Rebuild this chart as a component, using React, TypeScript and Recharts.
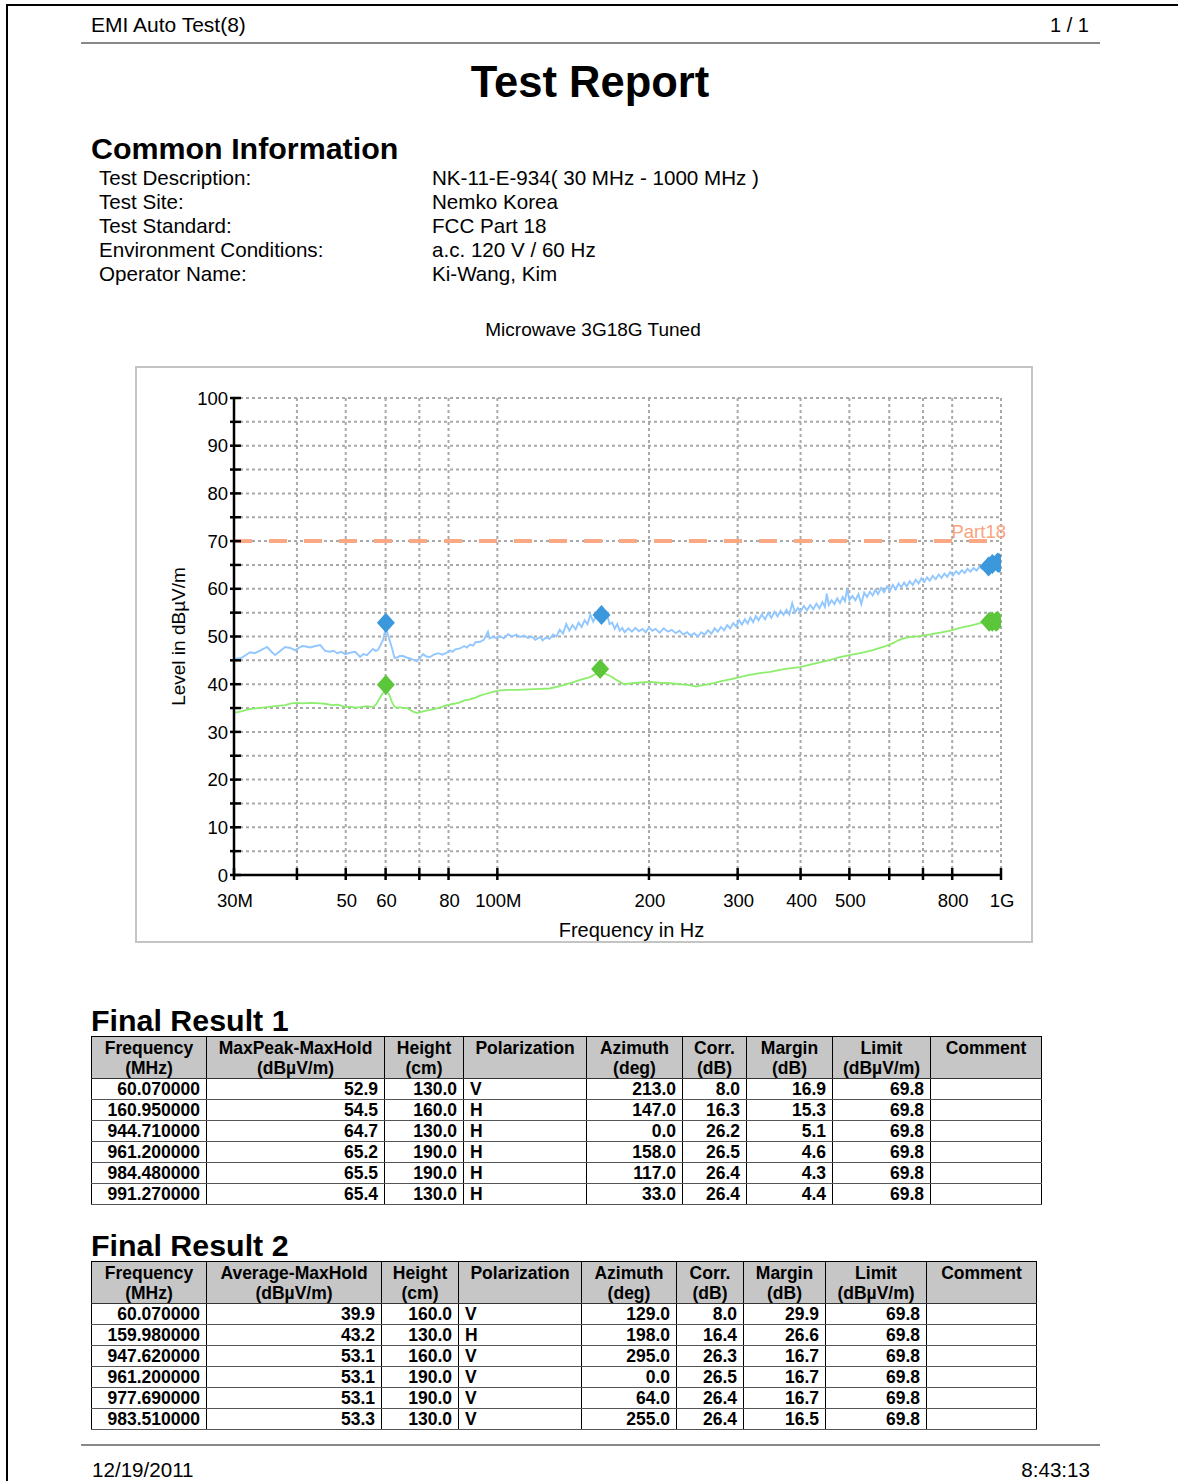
import React from "react";
import {
  ComposedChart,
  Line,
  Scatter,
  XAxis,
  YAxis,
  CartesianGrid,
  ReferenceLine,
  Label,
} from "recharts";

const FONT = '"Liberation Sans", Arial, Helvetica, sans-serif';

// axis setup
const X_TICKS = [30, 40, 50, 60, 70, 80, 100, 200, 300, 400, 500, 600, 700, 800, 1000];
const X_TICK_LABELS: Record<number, string> = {
  30: "30M", 50: "50", 60: "60", 80: "80", 100: "100M",
  200: "200", 300: "300", 400: "400", 500: "500", 800: "800", 1000: "1G",
};
const Y_TICKS = [0, 5, 10, 15, 20, 25, 30, 35, 40, 45, 50, 55, 60, 65, 70, 75, 80, 85, 90, 95, 100];
const LIMIT_LEVEL = 70;
const LIMIT_NAME = "Part18";

// MaxPeak trace (MHz, dBuV/m)
const PEAK_TRACE: [number, number][] = [
  [30, 45.3], [31, 45.5], [32.3, 46.7], [33, 46.5], [34, 47.2], [34.9, 47.8], [35.6, 46.8], [36.2, 46.1],
  [37, 46.9], [37.9, 47.8], [38.8, 47.6], [39.7, 47.1], [40.3, 47.6], [41, 48.0], [41.7, 47.9], [42.5, 47.7],
  [43.5, 48.0], [44.5, 48.2], [45.5, 47.0], [46.5, 46.8], [47.3, 47.0], [48.1, 46.5], [49, 46.8], [49.8, 46.3],
  [51, 46.6], [52.2, 46.8], [53.4, 45.7], [54.2, 46.3], [55.1, 46.1], [56.6, 47.4], [57.4, 47.0], [58, 47.2],
  [59.3, 49.3], [60.07, 51.8], [61, 49.5], [61.8, 47.5], [62.5, 45.5], [63.2, 45.6], [64, 45.9], [65, 45.9],
  [66, 45.6], [67.1, 45.4], [68.2, 45.1], [69.2, 44.8], [70.2, 45.5], [71.2, 46.3], [72.3, 45.8], [73.5, 45.7],
  [74.8, 46.2], [76.3, 46.5], [77.8, 46.2], [79.4, 46.6], [80.6, 47.1], [81.5, 46.8], [82.5, 47.3], [84.3, 47.5],
  [86, 48.0], [87, 47.7], [88.3, 48.3], [89.5, 48.1], [90.5, 48.8], [92.4, 48.9], [94, 49.3], [95.8, 51.0],
  [96.5, 49.6], [98, 49.9], [99.5, 49.7], [101, 50.1], [103, 49.6], [105, 50.5], [107, 50.0], [109, 50.4],
  [111, 49.9], [113, 50.2], [115, 49.7], [117, 50.0], [119, 49.3], [121.6, 49.9], [123, 49.2], [125, 49.8],
  [127, 49.5], [129, 50.4], [131, 50.0], [133, 51.4], [135, 50.6], [137, 52.6], [139, 51.2], [141, 52.4],
  [143, 51.5], [145, 52.9], [147, 52.0], [149, 53.4], [151, 52.6], [153, 54.6], [155, 53.1], [157, 54.2],
  [159, 53.6], [160.95, 54.3], [163, 53.4], [165, 54.8], [167, 52.6], [169, 52.9], [171, 51.6], [173, 52.6],
  [175, 51.2], [177, 51.8], [179, 50.9], [182, 51.7], [185, 51.0], [188, 51.8], [191, 51.1], [194, 51.6],
  [197, 50.9], [200, 51.9], [203, 51.2], [206, 51.6], [210, 50.8], [214, 51.7], [218, 51.0], [222, 51.4],
  [226, 50.7], [230, 51.2], [234, 50.4], [238, 50.9], [242, 50.2], [246, 50.7], [250, 50.0], [254, 50.9],
  [258, 50.4], [262, 51.3], [266, 50.6], [270, 51.7], [274, 51.0], [278, 52.0], [282, 51.3], [286, 52.4],
  [290, 51.7], [294, 52.8], [298, 52.1], [302, 53.4], [306, 52.5], [310, 53.6], [314, 52.7], [318, 54.0],
  [322, 53.0], [326, 54.3], [330, 53.4], [335, 54.6], [340, 53.6], [345, 55.0], [350, 53.9], [355, 55.2],
  [360, 54.2], [365, 55.4], [370, 54.5], [375, 55.6], [380, 54.6], [385, 57.0], [390, 55.0], [395, 56.0],
  [400, 55.2], [406, 56.4], [412, 55.5], [418, 56.6], [424, 55.7], [430, 56.9], [436, 55.9], [442, 57.2],
  [447, 56.2], [451, 59.0], [455, 56.6], [461, 57.6], [467, 56.8], [473, 58.0], [479, 57.0], [485, 58.3],
  [490, 57.4], [495, 60.0], [500, 57.6], [507, 58.5], [514, 57.6], [521, 58.9], [528, 56.8], [535, 59.2],
  [542, 58.3], [549, 59.4], [556, 58.6], [563, 59.8], [570, 58.9], [578, 60.2], [586, 59.3], [594, 60.5],
  [602, 59.6], [610, 60.8], [618, 59.9], [626, 61.1], [634, 60.3], [642, 61.3], [650, 60.5], [659, 61.6],
  [668, 60.8], [677, 61.9], [686, 61.1], [695, 62.2], [704, 61.4], [713, 62.4], [722, 61.7], [732, 62.7],
  [742, 62.0], [752, 63.0], [762, 62.3], [772, 63.2], [782, 62.5], [792, 63.5], [803, 62.8], [814, 63.7],
  [825, 63.1], [836, 63.9], [847, 63.3], [858, 64.2], [870, 63.6], [882, 64.4], [894, 63.8], [906, 64.6],
  [918, 64.1], [930, 64.8], [942, 64.3], [954, 65.0], [966, 64.6], [978, 65.1], [990, 64.9], [1000, 65.3],
];

// Average trace
const AVG_TRACE: [number, number][] = [
  [30, 34.0], [31, 34.3], [32.3, 34.8], [33.5, 35.0], [34.9, 35.2], [36.2, 35.4], [37.9, 35.6], [39, 36.0],
  [40, 36.1], [41, 36.0], [42.5, 36.1], [44.5, 36.0], [45.5, 35.9], [47, 35.6], [48.1, 35.7], [49, 35.5],
  [49.8, 35.2], [51, 35.3], [52.2, 35.1], [53.4, 35.2], [55.1, 35.4], [56.6, 35.2], [57.5, 35.8], [58.5, 37.2],
  [59.3, 38.2], [60.07, 38.9], [61, 37.8], [61.8, 36.2], [62.5, 35.3], [63.2, 35.0], [64, 35.2], [65, 35.0],
  [66, 35.1], [67.1, 34.6], [68.2, 34.2], [69.2, 34.0], [70.2, 34.1], [71.2, 34.3], [73.5, 34.6], [76.3, 35.0],
  [79.4, 35.6], [82, 35.9], [84.3, 36.2], [86, 36.6], [88.3, 36.8], [90.5, 37.2], [92.4, 37.6], [95.8, 38.1],
  [98, 38.4], [101, 38.7], [105, 38.8], [110, 38.8], [115, 38.9], [121.6, 39.0], [127, 39.1], [133, 39.6],
  [140, 40.3], [146, 40.9], [152.8, 41.5], [157, 42.2], [160, 42.8], [163, 42.3], [169, 41.5], [173, 40.8],
  [178.5, 40.0], [185, 40.2], [190, 40.3], [201, 40.5], [210, 40.3], [220, 40.2], [230, 40.0], [241, 39.8],
  [248, 39.5], [253, 39.7], [260, 39.9], [270, 40.3], [277, 40.6], [290, 41.0], [303, 41.5], [315, 41.9],
  [332, 42.3], [348, 42.6], [364, 43.0], [380, 43.3], [399, 43.6], [418, 44.1], [437, 44.6], [458, 45.1],
  [479, 45.7], [500, 46.1], [525, 46.5], [550, 47.0], [575, 47.6], [590, 48.0], [610, 48.6], [625, 49.2],
  [645, 49.7], [665, 49.9], [691, 50.1], [720, 50.4], [757, 50.8], [790, 51.2], [829, 51.8], [870, 52.3],
  [909, 52.8], [951, 53.2], [980, 53.4], [1000, 53.6],
];

// Final result tables
const HEAD_1 = [
  ["Frequency", "(MHz)"], ["MaxPeak-MaxHold", "(dBµV/m)"], ["Height", "(cm)"], ["Polarization", ""],
  ["Azimuth", "(deg)"], ["Corr.", "(dB)"], ["Margin", "(dB)"], ["Limit", "(dBµV/m)"], ["Comment", ""],
];
const HEAD_2 = [
  ["Frequency", "(MHz)"], ["Average-MaxHold", "(dBµV/m)"], ["Height", "(cm)"], ["Polarization", ""],
  ["Azimuth", "(deg)"], ["Corr.", "(dB)"], ["Margin", "(dB)"], ["Limit", "(dBµV/m)"], ["Comment", ""],
];
const FINAL_1 = [
  ["60.070000", "52.9", "130.0", "V", "213.0", "8.0", "16.9", "69.8", ""],
  ["160.950000", "54.5", "160.0", "H", "147.0", "16.3", "15.3", "69.8", ""],
  ["944.710000", "64.7", "130.0", "H", "0.0", "26.2", "5.1", "69.8", ""],
  ["961.200000", "65.2", "190.0", "H", "158.0", "26.5", "4.6", "69.8", ""],
  ["984.480000", "65.5", "190.0", "H", "117.0", "26.4", "4.3", "69.8", ""],
  ["991.270000", "65.4", "130.0", "H", "33.0", "26.4", "4.4", "69.8", ""],
];
const FINAL_2 = [
  ["60.070000", "39.9", "160.0", "V", "129.0", "8.0", "29.9", "69.8", ""],
  ["159.980000", "43.2", "130.0", "H", "198.0", "16.4", "26.6", "69.8", ""],
  ["947.620000", "53.1", "160.0", "V", "295.0", "26.3", "16.7", "69.8", ""],
  ["961.200000", "53.1", "190.0", "V", "0.0", "26.5", "16.7", "69.8", ""],
  ["977.690000", "53.1", "190.0", "V", "64.0", "26.4", "16.7", "69.8", ""],
  ["983.510000", "53.3", "130.0", "V", "255.0", "26.4", "16.5", "69.8", ""],
];
const WIDTHS_1 = [115, 178, 79, 123, 96, 64, 86, 98, 111];
const WIDTHS_2 = [115, 175, 77, 123, 95, 67, 82, 101, 110];
const ALIGN = ["right", "right", "right", "left", "right", "right", "right", "right", "left"];

const INFO = [
  ["Test Description:", "NK-11-E-934( 30 MHz - 1000 MHz )"],
  ["Test Site:", "Nemko Korea"],
  ["Test Standard:", "FCC Part 18"],
  ["Environment Conditions:", "a.c. 120 V / 60 Hz"],
  ["Operator Name:", "Ki-Wang, Kim"],
];

const peakData = PEAK_TRACE.map(([f, v]) => ({ f, v }));
const avgData = AVG_TRACE.map(([f, v]) => ({ f, v }));
const peakMarks = FINAL_1.map((r) => ({ f: parseFloat(r[0]), v: parseFloat(r[1]) }));
const avgMarks = FINAL_2.map((r) => ({ f: parseFloat(r[0]), v: parseFloat(r[1]) }));

function XTick(props: any) {
  const { x, y, payload } = props;
  const label = X_TICK_LABELS[payload.value];
  return (
    <g>
      <line x1={x} x2={x} y1={y - 7} y2={y + 5} stroke="#000" strokeWidth={2.5} />
      {label && (
        <text x={x + 1} y={y + 32} textAnchor="middle" fontSize={18.5} fontFamily={FONT} fill="#000">
          {label}
        </text>
      )}
    </g>
  );
}

function YTick(props: any) {
  const { x, y, payload } = props;
  const major = payload.value % 10 === 0;
  return (
    <g>
      <line x1={x - 4} x2={x + 7} y1={y} y2={y} stroke="#000" strokeWidth={2.5} />
      {major && (
        <text x={x - 6} y={y} dy="0.36em" textAnchor="end" fontSize={18.5} fontFamily={FONT} fill="#000">
          {payload.value}
        </text>
      )}
    </g>
  );
}

function diamond(color: string) {
  return (props: any) => {
    const { cx, cy } = props;
    if (cx == null || cy == null) return null;
    return (
      <polygon
        points={`${cx},${cy - 10} ${cx + 9},${cy} ${cx},${cy + 10} ${cx - 9},${cy}`}
        fill={color}
      />
    );
  };
}

function LimitLabel(props: any) {
  const vb = props.viewBox || {};
  return (
    <text x={vb.x + vb.width + 5} y={vb.y - 3} textAnchor="end" fontSize={18.5} fontFamily={FONT} fill="#f9a47e">
      {LIMIT_NAME}
    </text>
  );
}

function YLabel(props: any) {
  const vb = props.viewBox || {};
  const cx = vb.x + 41;
  const cy = vb.y + vb.height / 2;
  return (
    <text
      x={cx}
      y={cy}
      transform={`rotate(-90 ${cx} ${cy})`}
      textAnchor="middle"
      dominantBaseline="central"
      fontSize={19}
      fontFamily={FONT}
      fill="#000"
    >
      Level in dBµV/m
    </text>
  );
}

function EmiChart() {
  return (
    <ComposedChart width={894} height={573} margin={{ top: 30, right: 30, bottom: 0, left: 0 }}>
      <CartesianGrid stroke="#a9a9a9" strokeWidth={2} strokeDasharray="3 3" />
      <XAxis
        dataKey="f"
        type="number"
        scale="log"
        domain={[30, 1000]}
        allowDataOverflow
        ticks={X_TICKS}
        interval={0}
        tick={<XTick />}
        tickSize={0}
        tickMargin={0}
        tickLine={false}
        axisLine={{ stroke: "#000", strokeWidth: 2.5 }}
        height={66}
      >
        <Label
          value="Frequency in Hz"
          position="insideBottom"
          offset={4}
          dx={14}
          style={{ fontSize: 20, fill: "#000", fontFamily: FONT }}
        />
      </XAxis>
      <YAxis
        type="number"
        domain={[0, 100]}
        ticks={Y_TICKS}
        interval={0}
        tick={<YTick />}
        tickSize={0}
        tickMargin={0}
        tickLine={false}
        axisLine={{ stroke: "#000", strokeWidth: 2.5 }}
        width={97}
      >
        <Label content={<YLabel />} />
      </YAxis>
      <ReferenceLine
        y={LIMIT_LEVEL}
        stroke="#fba885"
        strokeWidth={4}
        strokeDasharray="18 17"
        label={<LimitLabel />}
      />
      <Line
        data={peakData}
        dataKey="v"
        type="linear"
        stroke="#92c8ff"
        strokeWidth={1.9}
        dot={false}
        activeDot={false}
        isAnimationActive={false}
      />
      <Line
        data={avgData}
        dataKey="v"
        type="linear"
        stroke="#8cee6c"
        strokeWidth={1.8}
        dot={false}
        activeDot={false}
        isAnimationActive={false}
      />
      <Scatter data={peakMarks} dataKey="v" shape={diamond("#3b98dc")} isAnimationActive={false} />
      <Scatter data={avgMarks} dataKey="v" shape={diamond("#5cc63a")} isAnimationActive={false} />
    </ComposedChart>
  );
}

function ResultTable({ top, widths, head, rows }: { top: number; widths: number[]; head: string[][]; rows: string[][] }) {
  const total = widths.reduce((a, b) => a + b, 0);
  return (
    <table
      style={{
        position: "absolute",
        left: 91,
        top,
        width: total,
        borderCollapse: "collapse",
        tableLayout: "fixed",
        fontFamily: FONT,
        fontWeight: "bold",
        fontSize: 17.5,
        border: "1.5px solid #000",
        color: "#000",
      }}
    >
      <colgroup>
        {widths.map((w, i) => (
          <col key={i} style={{ width: w }} />
        ))}
      </colgroup>
      <thead>
        <tr style={{ height: 42 }}>
          {head.map((h, i) => (
            <th
              key={i}
              style={{
                background: "#c6c6c6",
                border: "1px solid #000",
                borderBottom: "1.5px solid #333",
                verticalAlign: "top",
                padding: "1px 2px 0",
                lineHeight: "20px",
                textAlign: "center",
                fontWeight: "bold",
              }}
            >
              {h[0]}
              <br />
              {h[1] || "\u00a0"}
            </th>
          ))}
        </tr>
      </thead>
      <tbody>
        {rows.map((r, ri) => (
          <tr key={ri} style={{ height: 21 }}>
            {r.map((c, i) => (
              <td
                key={i}
                style={{
                  borderLeft: "1px solid #000",
                  borderRight: "1px solid #000",
                  borderBottom: "1px solid #555",
                  padding: i === 3 ? "0 4px 0 6px" : "0 6px 0 4px",
                  lineHeight: "19px",
                  textAlign: ALIGN[i] as any,
                  whiteSpace: "nowrap",
                }}
              >
                {c}
              </td>
            ))}
          </tr>
        ))}
      </tbody>
    </table>
  );
}

const abs = (left: number, top: number, extra: React.CSSProperties = {}): React.CSSProperties => ({
  position: "absolute",
  left,
  top,
  fontFamily: FONT,
  color: "#000",
  whiteSpace: "nowrap",
  ...extra,
});

export default function App() {
  return (
    <div style={{ position: "absolute", left: 0, top: 0, width: 1178, height: 1481, background: "#fff", overflow: "hidden" }}>
      <div style={{ position: "absolute", left: 6, top: 4, width: 1200, height: 1500, borderLeft: "2px solid #000", borderTop: "2px solid #000" }} />

      <div style={abs(91, 14, { fontSize: 21, lineHeight: "22px" })}>EMI Auto Test(8)</div>
      <div style={abs(0, 14, { width: 1089, textAlign: "right", fontSize: 20, lineHeight: "22px" })}>1 / 1</div>
      <div style={{ position: "absolute", left: 81, top: 42, width: 1019, height: 2, background: "#888" }} />

      <div style={abs(0, 58, { width: 1180, textAlign: "center", fontSize: 43.5, fontWeight: "bold", lineHeight: "48px" })}>
        Test Report
      </div>

      <div style={abs(91, 131, { fontSize: 30.4, fontWeight: "bold", lineHeight: "34px" })}>Common Information</div>
      {INFO.map(([k, v], i) => (
        <React.Fragment key={k}>
          <div style={abs(99, 166 + i * 24, { fontSize: 20.6, lineHeight: "24px" })}>{k}</div>
          <div style={abs(432, 166 + i * 24, { fontSize: 20.6, lineHeight: "24px" })}>{v}</div>
        </React.Fragment>
      ))}

      <div style={abs(0, 319, { width: 1186, textAlign: "center", fontSize: 19, lineHeight: "22px" })}>
        Microwave 3G18G Tuned
      </div>

      <div
        style={{
          position: "absolute",
          left: 135,
          top: 366,
          width: 898,
          height: 577,
          border: "2px solid #c4c4c4",
          boxSizing: "border-box",
          background: "#fff",
        }}
      >
        <EmiChart />
      </div>

      <div style={abs(91, 1003, { fontSize: 30.4, fontWeight: "bold", lineHeight: "34px" })}>Final Result 1</div>
      <ResultTable top={1036} widths={WIDTHS_1} head={HEAD_1} rows={FINAL_1} />

      <div style={abs(91, 1228, { fontSize: 30.4, fontWeight: "bold", lineHeight: "34px" })}>Final Result 2</div>
      <ResultTable top={1261} widths={WIDTHS_2} head={HEAD_2} rows={FINAL_2} />

      <div style={{ position: "absolute", left: 81, top: 1444, width: 1019, height: 2, background: "#888" }} />
      <div style={abs(92, 1459, { fontSize: 20.6, lineHeight: "22px" })}>12/19/2011</div>
      <div style={abs(0, 1459, { width: 1090, textAlign: "right", fontSize: 20.6, lineHeight: "22px" })}>8:43:13</div>
    </div>
  );
}
